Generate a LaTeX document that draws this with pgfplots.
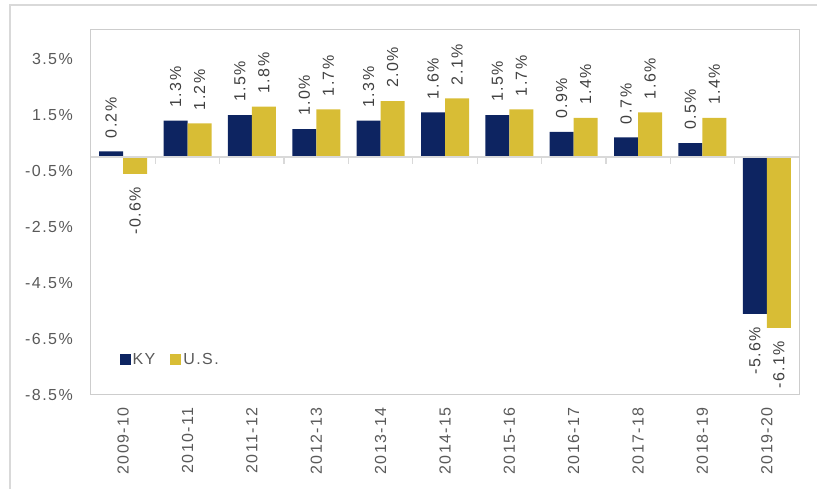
\documentclass[border=0pt]{standalone}
\usepackage{pgfplots}
\pgfplotsset{compat=1.18}
\usepackage{pgfplotstable}
\usepackage{fontspec}
\setmainfont[LetterSpace=9]{Liberation Sans}
\definecolor{kyblue}{RGB}{13,36,97}
\definecolor{usgold}{RGB}{216,189,53}
\definecolor{ticktext}{RGB}{89,89,89}
\definecolor{labeltext}{RGB}{64,64,64}
\definecolor{framec}{RGB}{217,217,217}
\definecolor{boxc}{RGB}{205,205,205}
\pgfplotstableread{
x ky us
0 0.2 -0.6
1 1.3 1.2
2 1.5 1.8
3 1.0 1.7
4 1.3 2.0
5 1.6 2.1
6 1.5 1.7
7 0.9 1.4
8 0.7 1.6
9 0.5 1.4
10 -5.6 -6.1
}\data
\pgfplotsset{
  mybar/.style={ybar, bar width=24pt, draw=none,
    legend image code/.code={\fill[##1] (0pt,-5.5pt) rectangle (11pt,5.5pt);}},
  mylab/.style 2 args={only marks, mark=none, forget plot,
    nodes near coords={\pgfmathprintnumber[fixed,fixed zerofill,precision=1]{\pgfplotspointmeta}\%},
    nodes near coords style={xshift=#2, rotate=90, anchor=#1, inner xsep=13pt, inner ysep=0pt,
      font=\fontsize{16}{18}\selectfont, text=labeltext}},
}
\begin{document}
\begin{tikzpicture}
\path[use as bounding box] (0,0) rectangle (817pt,489pt);
\draw[framec, line width=1.5pt] (10pt,0) -- (10pt,484pt) -- (817pt,484pt);
\begin{axis}[
  at={(91pt,94pt)}, anchor=south west,
  scale only axis, width=708pt, height=365pt,
  xmin=-0.5, xmax=10.5, ymin=-8.5, ymax=4.54,
  /pgf/number format/assume math mode=true,
  axis line style={boxc, line width=1pt},
  major tick length=0pt,
  xtick={0,1,2,3,4,5,6,7,8,9,10},
  xticklabels={2009-10,2010-11,2011-12,2012-13,2013-14,2014-15,2015-16,2016-17,2017-18,2018-19,2019-20},
  ytick={-8.5,-6.5,-4.5,-2.5,-0.5,1.5,3.5},
  yticklabels={-8.5\%,-6.5\%,-4.5\%,-2.5\%,-0.5\%,1.5\%,3.5\%},
  tick label style={font=\fontsize{16}{18}\selectfont, text=ticktext},
  xticklabel style={rotate=90, anchor=east, inner xsep=12pt, inner ysep=0pt},
  yticklabel style={anchor=east, inner xsep=18pt},
  legend style={at={(0.04,0.096)}, anchor=west, draw=none, fill=none,
    font=\fontsize{16}{18}\selectfont, text=ticktext, inner sep=0pt,
    /tikz/every even column/.append style={column sep=13pt}},
  legend columns=2,
]
\addplot[mybar, fill=kyblue, bar shift=-12pt] table[x=x,y=ky]{\data};
\addplot[mybar, fill=usgold, bar shift=12pt] table[x=x,y=us]{\data};
\legend{KY,U.S.}
\addplot[mylab={west}{-12pt}, restrict y to domain=0:10] table[x=x,y=ky]{\data};
\addplot[mylab={east}{-12pt}, restrict y to domain=-10:0] table[x=x,y=ky]{\data};
\addplot[mylab={west}{12pt}, restrict y to domain=0:10] table[x=x,y=us]{\data};
\addplot[mylab={east}{12pt}, restrict y to domain=-10:0] table[x=x,y=us]{\data};
\draw[framec, line width=1.5pt] (axis cs:-0.5,0) -- (axis cs:10.5,0);
\pgfplotsinvokeforeach{0.5,1.5,2.5,3.5,4.5,5.5,6.5,7.5,8.5,9.5}{
  \draw[framec, line width=1.2pt] (axis cs:#1,0) -- ([yshift=-7pt]axis cs:#1,0);
}
\end{axis}
\end{tikzpicture}
\end{document}
